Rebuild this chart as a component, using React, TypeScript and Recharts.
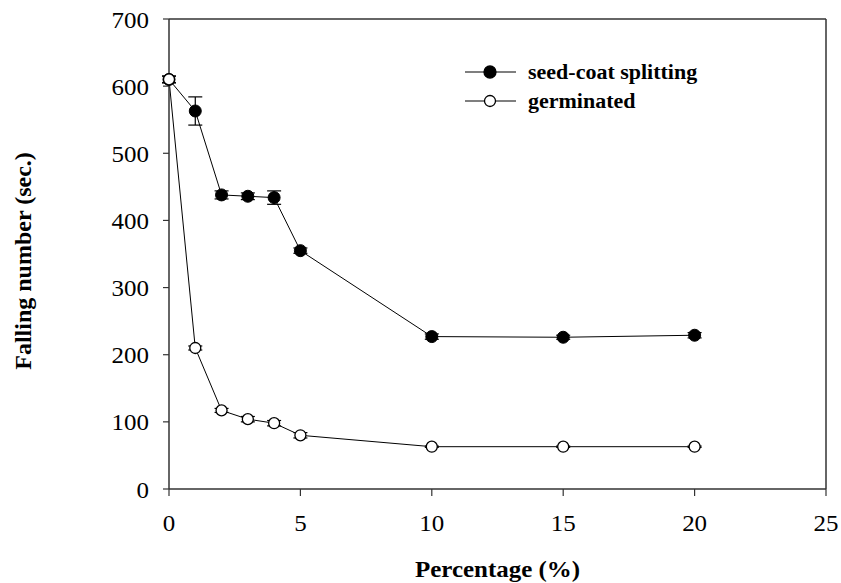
import { ErrorBar, Label, Legend, Line, LineChart, ReferenceLine, XAxis, YAxis } from "recharts";

const percentages = [0, 1, 2, 3, 4, 5, 10, 15, 20];
const seedCoatSplitting = [610, 563, 438, 436, 434, 355, 227, 226, 229];
const seedCoatErr = [5, 21, 6, 5, 10, 4, 4, 3, 4];
const germinated = [610, 210, 117, 104, 98, 80, 63, 63, 63];
const germinatedErr = [5, 3, 3, 4, 4, 4, 1, 1, 1];
const xTicks = [0, 5, 10, 15, 20, 25];
const yTicks = [0, 100, 200, 300, 400, 500, 600, 700];
const seriesOrder = ["seed", "germ"];

const data = percentages.map((p, i) => ({
  pct: p,
  seed: seedCoatSplitting[i],
  seedErr: seedCoatErr[i],
  germ: germinated[i],
  germErr: germinatedErr[i],
}));

const FONT = "'Liberation Serif', 'Times New Roman', serif";
const SX = 1.04; // the original figure is slightly stretched sideways
const AXIS = "#333";

function XTick({ x, y, payload }: any) {
  return (
    <text
      transform={`translate(${x},${y}) scale(${SX},1)`}
      textAnchor="middle"
      dy="0.71em"
      fontFamily={FONT}
      fontSize={24}
      fill="#000"
    >
      {payload.value}
    </text>
  );
}

function YTick({ x, y, payload }: any) {
  return (
    <text
      transform={`translate(${x},${y}) scale(${SX},1)`}
      textAnchor="end"
      dy="0.355em"
      fontFamily={FONT}
      fontSize={24}
      fill="#000"
    >
      {payload.value}
    </text>
  );
}

function LegendBox({ payload }: any) {
  const items = [...(payload || [])].sort(
    (a: any, b: any) => seriesOrder.indexOf(a.dataKey) - seriesOrder.indexOf(b.dataKey)
  );
  return (
    <svg width={841} height={130} style={{ overflow: "visible", display: "block" }}>
      {items.map((item: any, i: number) => {
        const y = 72 + i * 29;
        const filled = item.dataKey === "seed";
        return (
          <g key={item.value}>
            <line x1={465} x2={516} y1={y} y2={y} stroke="#000" strokeWidth={1.2} />
            <circle
              cx={490}
              cy={y}
              r={filled ? 6 : 5.5}
              fill={filled ? "#000" : "#fff"}
              stroke="#000"
              strokeWidth={1.3}
            />
            <text
              transform={`translate(528,${y}) scale(1.1,1)`}
              dy="0.33em"
              fontFamily={FONT}
              fontWeight="bold"
              fontSize={20}
              fill="#000"
            >
              {item.value}
            </text>
          </g>
        );
      })}
    </svg>
  );
}

export default function App() {
  return (
    <div style={{ position: "absolute", left: 0, top: 0, background: "#fff" }}>
      <LineChart width={841} height={583} data={data} margin={{ top: 19, right: 15, left: 0, bottom: 0 }}>
        <XAxis
          type="number"
          dataKey="pct"
          domain={[0, 25]}
          ticks={xTicks}
          height={94}
          tickSize={7}
          tickMargin={18}
          tick={<XTick />}
          stroke={AXIS}
          strokeWidth={1.5}
          tickLine={{ stroke: AXIS, strokeWidth: 1.2 }}
        >
          <Label
            content={({ viewBox }: any) => (
              <text
                transform={`translate(${viewBox.x + viewBox.width / 2},${viewBox.y + 88}) scale(${SX},1)`}
                textAnchor="middle"
                fontFamily={FONT}
                fontWeight="bold"
                fontSize={24}
                fill="#000"
              >
                Percentage (%)
              </text>
            )}
          />
        </XAxis>
        <YAxis
          type="number"
          domain={[0, 700]}
          ticks={yTicks}
          width={169}
          tickSize={6}
          tickMargin={14}
          tick={<YTick />}
          stroke={AXIS}
          strokeWidth={1.5}
          tickLine={{ stroke: AXIS, strokeWidth: 1.2 }}
        >
          <Label
            content={({ viewBox }: any) => (
              <text
                transform={`translate(23,${viewBox.y + viewBox.height / 2 + 7}) rotate(-90)`}
                textAnchor="middle"
                dominantBaseline="central"
                fontFamily={FONT}
                fontWeight="bold"
                fontSize={24}
                fill="#000"
              >
                Falling number (sec.)
              </text>
            )}
          />
        </YAxis>
        <ReferenceLine y={700} stroke={AXIS} strokeWidth={1.5} />
        <ReferenceLine x={25} stroke={AXIS} strokeWidth={1.5} />
        <Legend
          layout="vertical"
          align="center"
          verticalAlign="middle"
          wrapperStyle={{ left: 0, top: 0, width: 841 }}
          content={<LegendBox />}
        />
        <Line
          dataKey="seed"
          name="seed-coat splitting"
          stroke="#000"
          strokeWidth={1}
          dot={{ r: 6, fill: "#000", stroke: "#000", strokeWidth: 1 }}
          activeDot={false}
          isAnimationActive={false}
        >
          <ErrorBar dataKey="seedErr" direction="y" width={7} stroke="#000" strokeWidth={1.2} />
        </Line>
        <Line
          dataKey="germ"
          name="germinated"
          stroke="#000"
          strokeWidth={1}
          dot={{ r: 5.5, fill: "#fff", stroke: "#000", strokeWidth: 1.3 }}
          activeDot={false}
          isAnimationActive={false}
        >
          <ErrorBar dataKey="germErr" direction="y" width={7} stroke="#000" strokeWidth={1.2} />
        </Line>
      </LineChart>
    </div>
  );
}
